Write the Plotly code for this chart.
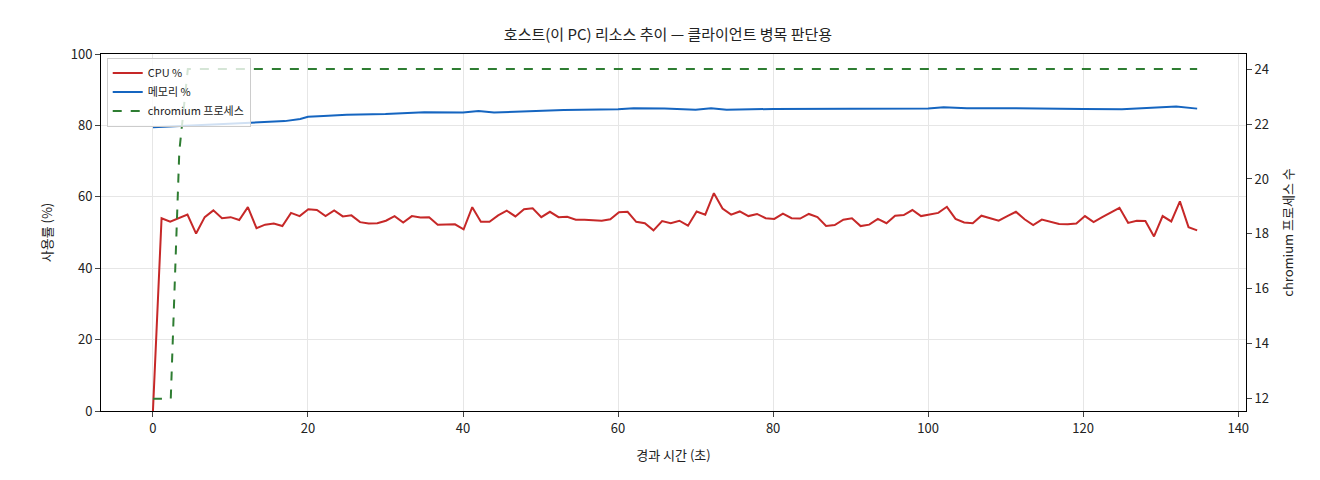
import plotly.graph_objects as go

cpu = [0, 54, 53, 54, 55, 49.7, 54.3, 56.2, 54, 54.3, 53.5, 57.1, 51.2, 52.2, 52.5, 51.8,
       55.5, 54.6, 56.5, 56.3, 54.6, 56.2, 54.5, 54.8, 52.9, 52.5, 52.6, 53.3, 54.6, 52.8,
       54.6, 54.2, 54.3, 52.2, 52.3, 52.3, 50.9, 57.1, 53, 53, 54.8, 56.1, 54.5, 56.5, 56.8,
       54.3, 55.8, 54.3, 54.4, 53.6, 53.6, 53.5, 53.3, 53.7, 55.7, 55.8, 53, 52.6, 50.6, 53.2,
       52.6, 53.3, 51.9, 55.9, 55, 61, 56.7, 55, 55.9, 54.6, 55.2, 54, 53.8, 55.3, 54, 53.9,
       55.2, 54.3, 51.8, 52.1, 53.6, 54, 51.8, 52.2, 53.8, 52.6, 54.7, 54.9, 56.3, 54.6, 55,
       55.5, 57.2, 53.8, 52.8, 52.6, 54.7, 54, 53.3, 54.6, 55.8, 53.7, 52.1, 53.6, 52.9, 52.4,
       52.3, 52.5, 54.6, 52.9, 54.3, 55.5, 56.9, 52.7, 53.3, 53.2, 48.9, 54.6, 53.1, 58.7,
       51.5, 50.6]
step = 134.7 / (len(cpu) - 1)
t_cpu = [i * step for i in range(len(cpu))]

t_mem = [0, 3, 6, 10, 14, 17, 19, 20, 22, 25, 30, 35, 40, 42, 44, 50, 53, 60, 62, 66, 70,
         72, 74, 80, 85, 90, 95, 100, 102, 105, 110, 115, 120, 125, 130, 132, 134.7]
mem = [79.5, 79.8, 80.2, 80.6, 81, 81.2, 81.8, 82.4, 82.6, 83, 83.2, 83.7, 83.6, 84, 83.6,
       84, 84.3, 84.5, 84.8, 84.7, 84.4, 84.8, 84.4, 84.6, 84.6, 84.6, 84.6, 84.7, 85.1,
       84.8, 84.8, 84.8, 84.6, 84.5, 85, 85.3, 84.7]

t_chr = [0, 1.1, 2.3, 3.4, 4.5, 5.6, 134.7]
chromium = [12, 12, 12, 21, 24, 24, 24]

fnt = "Noto Sans CJK KR, Noto Sans, sans-serif"
fig = go.Figure()
fig.add_trace(go.Scatter(x=t_cpu, y=cpu, mode="lines", name="CPU %",
                         line=dict(color="#c62828", width=2)))
fig.add_trace(go.Scatter(x=t_mem, y=mem, mode="lines", name="메모리 %",
                         line=dict(color="#1565c0", width=2)))
fig.add_trace(go.Scatter(x=t_chr, y=chromium, mode="lines", name="chromium 프로세스",
                         line=dict(color="#2e7d32", width=2, dash="dash"), yaxis="y2"))

fig.update_layout(
    width=1320, height=480, plot_bgcolor="white", paper_bgcolor="white",
    font=dict(family=fnt, size=13, color="#222"),
    margin=dict(l=93, r=82, t=46, b=77),
    title=dict(text="호스트(이 PC) 리소스 추이 — 클라이언트 병목 판단용", x=0.5, y=0.955,
               xanchor="center", font=dict(size=15)),
    xaxis=dict(title=dict(text="경과 시간 (초)", font=dict(size=13)), range=[-6.7, 141],
               tickvals=[0, 20, 40, 60, 80, 100, 120, 140], automargin=False,
               showgrid=True, gridcolor="#e6e6e6", showline=True, linecolor="black", mirror=True,
               ticks="outside", zeroline=False),
    yaxis=dict(title=dict(text="사용률 (%)", font=dict(size=13)), range=[0, 100], dtick=20,
               automargin=False, showgrid=True, gridcolor="#e6e6e6",
               showline=True, linecolor="black", ticks="outside", zeroline=False),
    yaxis2=dict(title=dict(text="chromium 프로세스 수", font=dict(size=13)), overlaying="y",
                side="right", range=[11.55, 24.55], automargin=False,
                tickvals=[12, 14, 16, 18, 20, 22, 24], showgrid=False, showline=True,
                linecolor="black", ticks="outside", zeroline=False),
    legend=dict(x=0.005, y=0.99, xanchor="left", yanchor="top", bgcolor="rgba(255,255,255,0.8)",
                bordercolor="#ccc", borderwidth=1, font=dict(size=11)),
)
fig.write_html("out.html")
